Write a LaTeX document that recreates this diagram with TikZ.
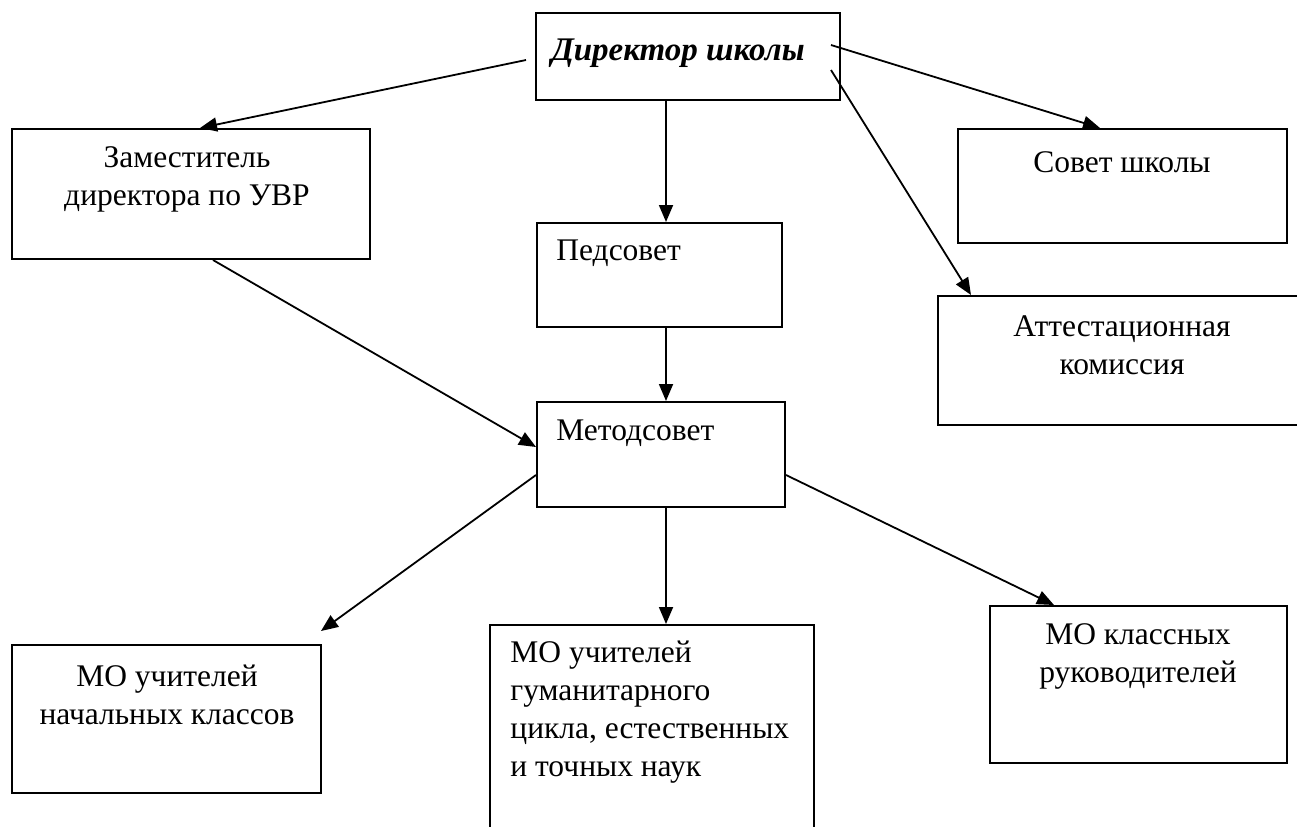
\documentclass[tikz,border=0pt]{standalone}
\usepackage{fontspec}
\setmainfont{Liberation Serif}
\usetikzlibrary{arrows.meta}
\tikzstyle{box}=[rectangle, draw=black, line width=1pt, inner sep=0pt]
\tikzstyle{arr}=[line width=.9pt, -{Triangle[length=8.5pt,width=7pt]}]
\tikzstyle{lbl}=[inner sep=0pt, align=center, font=\fontsize{15.75}{19}\selectfont]

\begin{document}
\begin{tikzpicture}[x=.5pt, y=-.5pt]

      \useasboundingbox (0,0) rectangle (1297,826);

      % top
      \node[box, minimum width=152pt, minimum height=43.5pt] (dir) at (688,56.5) {};
      \node[lbl, font=\fontsize{16.5}{19}\selectfont\bfseries\itshape] (dirt) at (678,53) {Директор школы};

      \node[box, minimum width=179pt, minimum height=65pt] (zam) at (191,194) {};
      \node[lbl] (zamt) at (187,179) {Заместитель\\директора по УВР};

      \node[box, minimum width=164.5pt, minimum height=57pt] (sov) at (1122.5,186) {};
      \node[lbl] (sovt) at (1122,162) {Совет школы};

      \node[box, minimum width=184pt, minimum height=64.5pt] (att) at (1122,360.5) {};
      \node[lbl] (attt) at (1122,345) {Аттестационная\\комиссия};

      % middle
      \node[box, minimum width=122.5pt, minimum height=52pt] (ped) at (659.5,275) {};
      \node[lbl, anchor=west] (pedt) at (556,253) {Педсовет};

      \node[box, minimum width=124pt, minimum height=52.5pt] (met) at (661,454.5) {};
      \node[lbl, anchor=west] (mett) at (556,433) {Методсовет};

      % bottom
      \node[box, minimum width=154.5pt, minimum height=74pt] (nach) at (166.5,719) {};
      \node[lbl] (nacht) at (167,695) {МО учителей\\начальных классов};

      \node[box, minimum width=162pt, minimum height=125pt] (gum) at (652,750) {};
      \node[lbl, anchor=west, align=left] (gumt) at (510,712)
        {МО учителей\\гуманитарного\\цикла, естественных\\и точных наук};

      \node[box, minimum width=148.5pt, minimum height=78.5pt] (ruk) at (1138.5,684.5) {};
      \node[lbl] (rukt) at (1138,656) {МО классных\\руководителей};

      % director
      \draw[arr] ([xshift=-4.5pt, yshift=-1.75pt]dir.west) -- ([xshift=4.5pt]zam.north);
      \draw[arr] ([xshift=3.25pt]ped.north |- dir.south) -- ([xshift=3.25pt]ped.north);
      \draw[arr] ([xshift=-5pt, yshift=5.75pt]dir.east) -- ([xshift=-11.25pt]sov.north);
      \draw[arr] ([xshift=-5pt, yshift=-6.75pt]dir.east) -- ([xshift=17pt]att.north west);

      % to methodical council
      \draw[arr] ([xshift=11pt]zam.south) -- ([yshift=3.75pt]met.west);
      \draw[arr] ([xshift=3.25pt]ped.south) -- ([xshift=3.25pt]ped.south |- met.north);

      % methodical council
      \draw[arr] ([yshift=-10.25pt]met.west) -- ([xshift=-0.5pt, yshift=6.5pt]nach.north east);
      \draw[arr] ([xshift=2.5pt]met.south) -- ([xshift=2.5pt]met.south |- gum.north);
      \draw[arr] ([yshift=-10.25pt]met.east) -- ([xshift=32.5pt]ruk.north west);

\end{tikzpicture}
\end{document}
